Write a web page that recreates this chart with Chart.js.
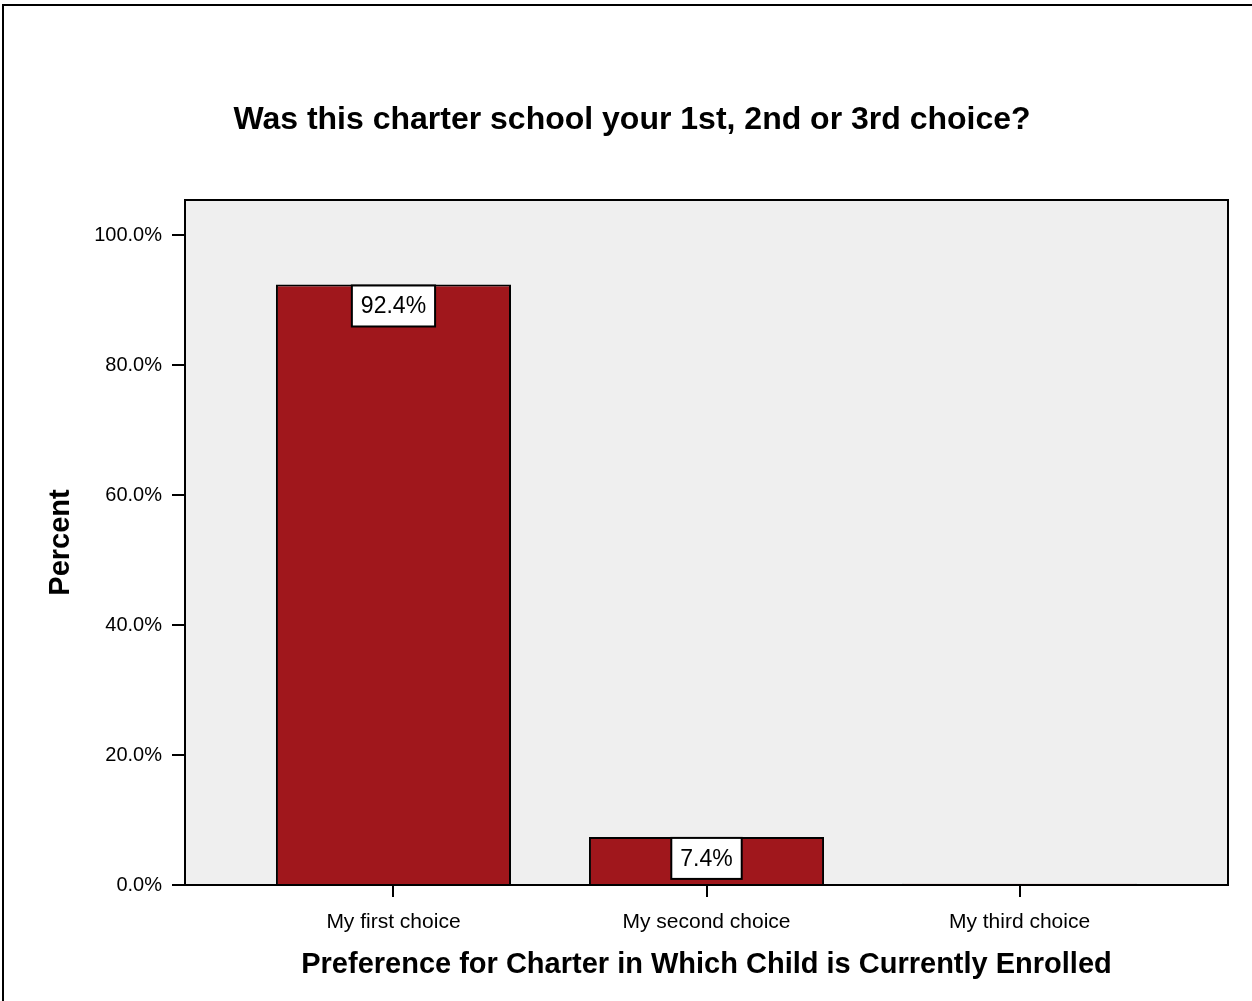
<!DOCTYPE html>
<html>
<head>
<meta charset="utf-8">
<script src="https://cdn.jsdelivr.net/npm/chart.js@4.4.1/dist/chart.umd.min.js"></script>
<style>
  html, body { margin: 0; padding: 0; background: #fff; overflow: hidden; }
  #frame { position: absolute; left: 2px; top: 4px; width: 1270px; height: 1020px; border: 2px solid #000; }
  #preference-chart { position: absolute; left: 0; top: 0; }
</style>
</head>
<body>
<div id="frame"></div>
<canvas id="preference-chart" width="1252" height="1001"></canvas>
<script>
const canvasElement = document.getElementById("preference-chart");

const categories = ["My first choice", "My second choice", "My third choice"];
const percents = [92.4, 7.4, 0.2];
const yTickValues = [0, 20, 40, 60, 80, 100];

const barRed = "#a0171c";
const plotGray = "#efefef";
const fontFamily = "Arial, 'Liberation Sans', sans-serif";

const formatPercent = (v) => `${v.toFixed(1)}%`;

// grey plot panel with a black frame round it
const plotPanel = {
  id: "plotPanel",
  beforeDraw(chart) {
    const { ctx, chartArea: a } = chart;
    ctx.save();
    ctx.fillStyle = plotGray;
    ctx.fillRect(a.left, a.top, a.right - a.left, a.bottom - a.top);
    ctx.strokeStyle = "#000";
    ctx.lineWidth = 2;
    ctx.strokeRect(a.left, a.top, a.right - a.left, a.bottom - a.top);
    ctx.restore();
  },
};

// white value boxes hanging from the top of each bar
const valueBoxes = {
  id: "valueBoxes",
  afterDatasetsDraw(chart) {
    const { ctx } = chart;
    const meta = chart.getDatasetMeta(0);
    ctx.save();
    ctx.font = `23px ${fontFamily}`;
    ctx.textAlign = "center";
    ctx.textBaseline = "middle";
    meta.data.forEach((bar, i) => {
      if (percents[i] < 1) return;
      const text = formatPercent(percents[i]);
      const w = ctx.measureText(text).width + 18;
      const h = 41;
      const x = bar.x - w / 2;
      const y = bar.y + 1;
      ctx.fillStyle = "#fff";
      ctx.fillRect(x, y, w, h);
      ctx.strokeStyle = "#000";
      ctx.lineWidth = 2;
      ctx.strokeRect(x, y, w, h);
      ctx.fillStyle = "#000";
      ctx.fillText(text, bar.x, y + h / 2 + 1);
    });
    ctx.restore();
  },
};

const config = {
  type: "bar",
  data: {
    datasets: [
      {
        label: "Percent",
        data: percents.map((p, i) => ({ x: i, y: p })),
        backgroundColor: barRed,
        borderColor: "#000",
        borderWidth: 2,
        categoryPercentage: 1,
        barPercentage: 0.751,
      },
    ],
  },
  options: {
    responsive: false,
    animation: false,
    layout: { padding: { left: 36, right: 24, top: 0, bottom: 0 } },
    plugins: {
      legend: { display: false },
      tooltip: { enabled: false },
      title: {
        display: true,
        text: "Was this charter school your 1st, 2nd or 3rd choice?",
        color: "#000",
        font: { family: fontFamily, size: 32, weight: "bold" },
        padding: { top: 101, bottom: 60.6 },
      },
    },
    scales: {
      x: {
        type: "linear",
        offset: false,
        min: -0.666,
        max: 2.666,
        afterBuildTicks: (scale) => {
          scale.ticks = categories.map((c, i) => ({ value: i }));
        },
        afterFit: (scale) => {
          scale.height = 116;
        },
        border: { display: true, color: "#000", width: 2 },
        grid: { offset: false, drawOnChartArea: false, color: "#000", lineWidth: 2, tickLength: 12 },
        ticks: {
          color: "#000",
          padding: 13,
          autoSkip: false,
          maxRotation: 0,
          font: { family: fontFamily, size: 21 },
          callback: (v) => categories[v],
        },
        title: {
          display: true,
          text: "Preference for Charter in Which Child is Currently Enrolled",
          color: "#000",
          font: { family: fontFamily, size: 29, weight: "bold" },
          padding: { top: 0, bottom: 18.6 },
        },
      },
      y: {
        min: 0,
        max: 105.4,
        afterBuildTicks: (scale) => {
          scale.ticks = yTickValues.map((v) => ({ value: v }));
        },
        afterFit: (scale) => {
          scale.width = 149;
        },
        border: { display: true, color: "#000", width: 2 },
        grid: { drawOnChartArea: false, color: "#000", lineWidth: 2, tickLength: 13 },
        ticks: {
          color: "#000",
          padding: 10,
          font: { family: fontFamily, size: 20 },
          callback: (v) => formatPercent(v),
        },
        title: {
          display: true,
          text: "Percent",
          color: "#000",
          font: { family: fontFamily, size: 29, weight: "bold" },
          padding: { top: 7.6, bottom: 0 },
        },
      },
    },
  },
  plugins: [plotPanel, valueBoxes],
};

const preferenceChart = new Chart(canvasElement, config);
</script>
</body>
</html>
